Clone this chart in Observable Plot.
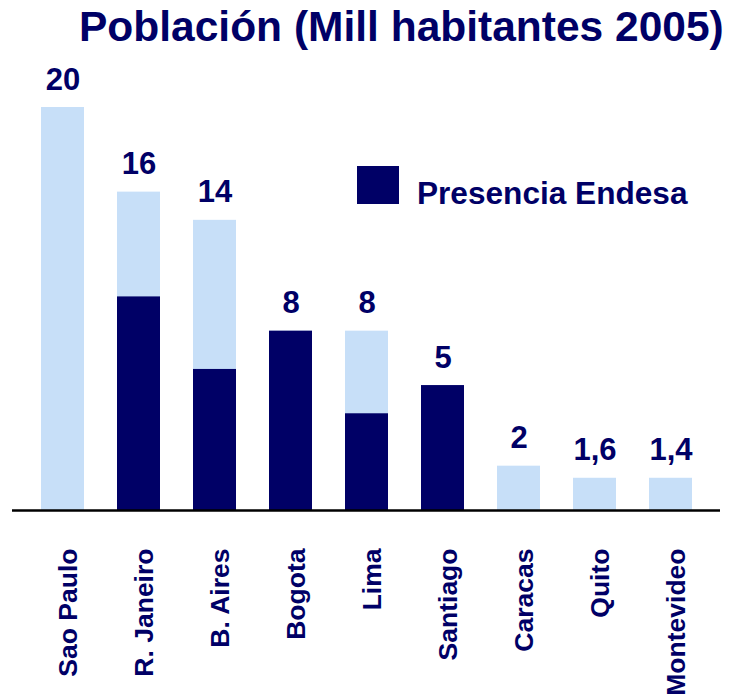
<!DOCTYPE html>
<html>
<head>
<meta charset="utf-8">
<script src="https://cdn.jsdelivr.net/npm/d3@7"></script>
<script src="https://cdn.jsdelivr.net/npm/@observablehq/plot@0.6"></script>
<style>
  body { margin: 0; background: #fff; font-family: "Liberation Sans", Arial, sans-serif; }
  #wrap { position: relative; width: 732px; height: 699px; overflow: hidden; }
  #chart { position: absolute; left: 0; top: 0; }
  #title { position: absolute; left: 79px; top: 6px; font-size: 42.5px; line-height: 42px; font-weight: bold; color: #000066; white-space: nowrap; }
  #legSwatch { position: absolute; left: 357px; top: 166px; width: 42px; height: 38px; background: #000066; }
  #legText { position: absolute; left: 417px; top: 178px; font-size: 31.6px; line-height: 31px; font-weight: bold; color: #000066; white-space: nowrap; }
</style>
</head>
<body>
<div id="wrap">
  <div id="chart"></div>
  <div id="title">Población (Mill habitantes 2005)</div>
  <div id="legSwatch"></div>
  <div id="legText">Presencia Endesa</div>
</div>
<script>
const ciudades = ["Sao Paulo", "R. Janeiro", "B. Aires", "Bogota", "Lima", "Santiago", "Caracas", "Quito", "Montevideo"];
const poblacion = [20, 15.8, 14.4, 8.9, 8.9, 6.2, 2.2, 1.6, 1.6];
const presenciaEndesa = [0, 10.6, 7.0, 8.9, 4.8, 6.2, 0, 0, 0];
const etiquetas = ["20", "16", "14", "8", "8", "5", "2", "1,6", "1,4"];

const datos = ciudades.map((c, i) => ({
  ciudad: c,
  total: poblacion[i],
  endesa: presenciaEndesa[i],
  etiqueta: etiquetas[i]
}));

const navy = "#000066";
const light = "#c7dff8";

const chart = Plot.plot({
  width: 732,
  height: 699,
  marginTop: 107,
  marginBottom: 189,
  marginLeft: 12,
  marginRight: 12,
  style: { fontFamily: "Liberation Sans, Arial, sans-serif", background: "transparent", overflow: "visible" },
  x: { domain: ciudades, paddingInner: 0.435, paddingOuter: 0.37, axis: null },
  y: { domain: [0, 20], axis: null },
  marks: [
    Plot.barY(datos, { x: "ciudad", y: "total", fill: light }),
    Plot.barY(datos.filter(d => d.endesa > 0), { x: "ciudad", y: "endesa", fill: navy }),
    Plot.ruleY([0], { stroke: "#000", strokeWidth: 2.5 }),
    Plot.text(datos, { x: "ciudad", y: "total", text: "etiqueta", lineAnchor: "bottom", dy: -18, fontSize: 31, fontWeight: "bold", fill: navy }),
    Plot.text(datos, { x: "ciudad", text: "ciudad", frameAnchor: "bottom", rotate: -90, textAnchor: "end", dx: 14, dy: 38, fontSize: 26.5, fontWeight: "bold", fill: navy })
  ]
});
document.getElementById("chart").appendChild(chart);
</script>
</body>
</html>
